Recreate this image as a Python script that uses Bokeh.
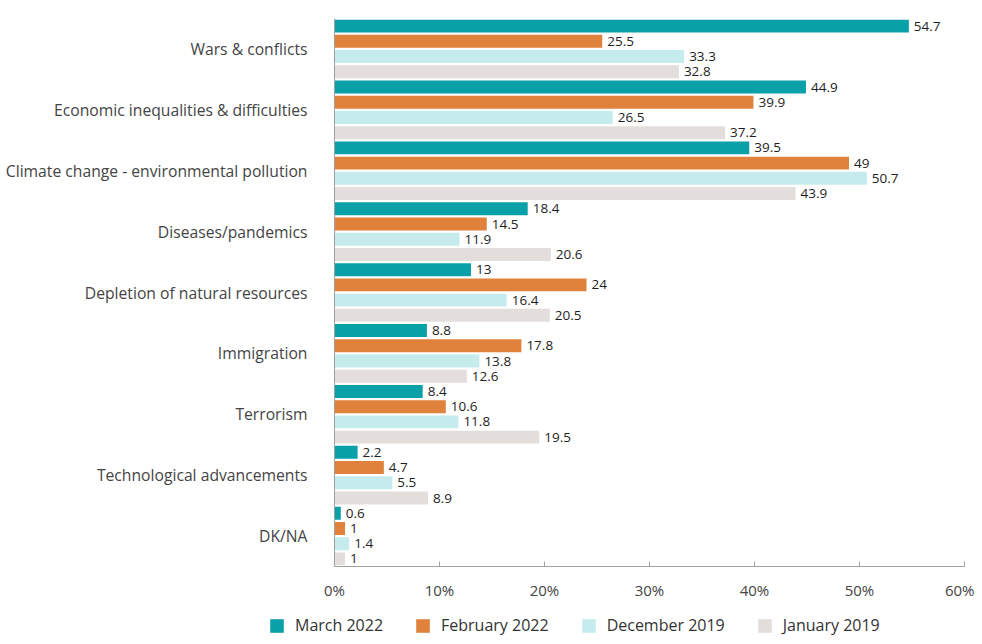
from bokeh.plotting import figure
from bokeh.models import FactorRange, Legend, LegendItem, ColumnDataSource, FixedTicker
from bokeh.transform import dodge
from bokeh.core.properties import value
from bokeh.embed import file_html
from bokeh.resources import INLINE

categories = [
    "Wars & conflicts",
    "Economic inequalities & difficulties",
    "Climate change - environmental pollution",
    "Diseases/pandemics",
    "Depletion of natural resources",
    "Immigration",
    "Terrorism",
    "Technological advancements",
    "DK/NA",
]
march_2022 = [54.7, 44.9, 39.5, 18.4, 13, 8.8, 8.4, 2.2, 0.6]
february_2022 = [25.5, 39.9, 49, 14.5, 24, 17.8, 10.6, 4.7, 1]
december_2019 = [33.3, 26.5, 50.7, 11.9, 16.4, 13.8, 11.8, 5.5, 1.4]
january_2019 = [32.8, 37.2, 43.9, 20.6, 20.5, 12.6, 19.5, 8.9, 1]

series_names = ["March 2022", "February 2022", "December 2019", "January 2019"]
series_values = [march_2022, february_2022, december_2019, january_2019]
colors = ["#0aa0a8", "#e0823b", "#c6ebec", "#e3dedb"]
offsets = [0.375, 0.125, -0.125, -0.375]

x_ticks = [0, 10, 20, 30, 40, 50, 60]
x_tick_labels = ["0%", "10%", "20%", "30%", "40%", "50%", "60%"]

FONT = "Open Sans"

p = figure(
    width=974, height=602,
    y_range=FactorRange(factors=categories[::-1], range_padding=0),
    x_range=(0, 60),
    output_backend="svg", toolbar_location=None,
    min_border_left=334, min_border_right=10,
    min_border_top=18, min_border_bottom=33,
)
p.outline_line_color = None
p.xgrid.visible = False
p.ygrid.visible = False
p.background_fill_color = "white"
p.border_fill_color = "white"

# legend strip figure (its bars lie outside its visible x range)
pl = figure(width=974, height=34, output_backend="svg", toolbar_location=None,
            x_axis_location=None, y_axis_location=None,
            min_border_left=0, min_border_right=0, min_border_top=0, min_border_bottom=0,
            x_range=(-2, -1), y_range=FactorRange(factors=categories))
pl.outline_line_color = None
pl.xgrid.visible = False
pl.ygrid.visible = False

leg_renderers = []
for name, vals, col, off in zip(series_names, series_values, colors, offsets):
    src = ColumnDataSource(dict(
        cat=categories,
        val=vals,
        label=[f"{v:g}" for v in vals],
    ))
    p.hbar(y=dodge("cat", off, range=p.y_range), right="val", left=0,
           height=0.2125, source=src, fill_color=col, line_color=None)
    p.text(x="val", y=dodge("cat", off, range=p.y_range), text="label",
           source=src, x_offset=5, text_baseline="middle", text_align="left",
           text_font=value(FONT), text_font_size="13.5px", text_color="#1e1e1e")
    leg_renderers.append(pl.hbar(y="cat", right="val", left=0, height=0.5,
                                 source=src, fill_color=col, line_color=None))

# axes
p.xaxis.ticker = FixedTicker(ticks=x_ticks)
p.xaxis.major_label_overrides = {t: l for t, l in zip(x_ticks, x_tick_labels)}
p.xaxis.axis_line_color = "#a0a0a0"
p.xaxis.major_tick_line_color = "#a0a0a0"
p.xaxis.major_tick_in = 5
p.xaxis.major_tick_out = 0
p.xaxis.minor_tick_line_color = None
p.xaxis.major_label_text_font = FONT
p.xaxis.major_label_text_font_size = "15px"
p.xaxis.major_label_text_color = "#444444"
p.xaxis.major_label_standoff = 13

p.yaxis.axis_line_color = "#a0a0a0"
p.yaxis.major_tick_line_color = None
p.yaxis.minor_tick_line_color = None
p.yaxis.major_label_text_font = FONT
p.yaxis.major_label_text_font_size = "15.7px"
p.yaxis.major_label_text_color = "#444444"
p.yaxis.major_label_standoff = 21

legend = Legend(
    items=[LegendItem(label=n, renderers=[r]) for n, r in zip(series_names, leg_renderers)],
    location=(268, 0), orientation="horizontal",
    padding=0, margin=0, spacing=31,
    glyph_width=17, glyph_height=17, label_standoff=10,
    border_line_color=None, background_fill_alpha=0,
    label_text_font=FONT, label_text_font_size="16px",
    label_text_color="#333333", label_height=17,
)
pl.add_layout(legend, "center")

open("out.html", "w").write(file_html([p, pl], INLINE))
